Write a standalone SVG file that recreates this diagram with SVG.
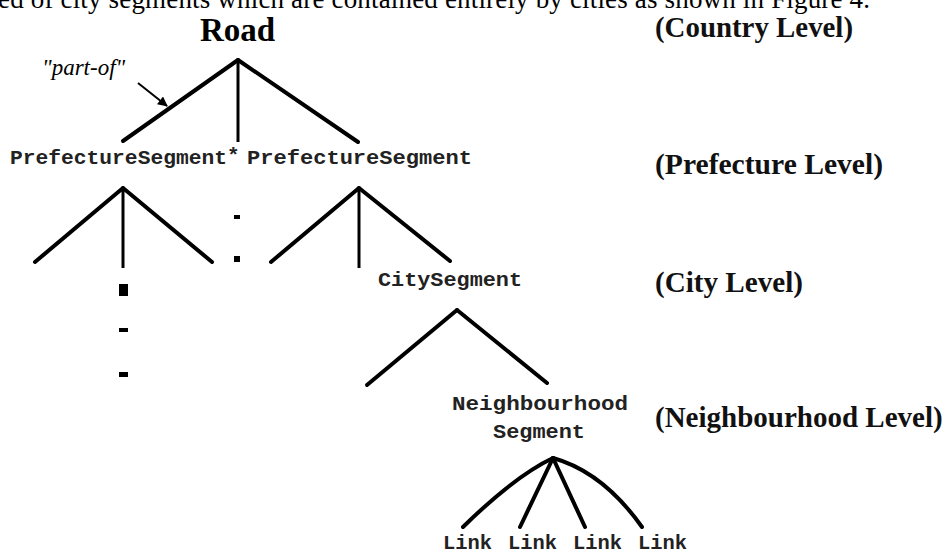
<svg xmlns="http://www.w3.org/2000/svg" width="945" height="554" viewBox="0 0 945 554">
<style>
.serif{font-family:"Liberation Serif","Times New Roman",serif;fill:#000}
.lvl{font-family:"Liberation Serif","Times New Roman",serif;font-weight:bold;font-size:29px;fill:#111}
.mono{font-family:"Liberation Mono","Courier New",monospace;font-weight:bold;font-size:21px;fill:#222}
.thick{stroke:#000;stroke-width:4;stroke-linecap:round;fill:none}
.thin{stroke:#000;stroke-width:3;fill:none}
</style>
<defs>
<marker id="ah" viewBox="0 0 10 10" refX="9" refY="5" markerWidth="5" markerHeight="5" orient="auto" markerUnits="strokeWidth">
<path d="M0,0 L10,5 L0,10 z" fill="#000"/>
</marker>
</defs>
<rect width="945" height="554" fill="#fff"/>
<text class="serif" x="-2" y="8" font-size="27" textLength="872" lengthAdjust="spacing">ed of city segments which are contained entirely by cities as shown in Figure 4.</text>

<g id="levels">
<text class="lvl" x="655" y="37" textLength="198" lengthAdjust="spacingAndGlyphs">(Country Level)</text>
<text class="lvl" x="655" y="174" textLength="228" lengthAdjust="spacingAndGlyphs">(Prefecture Level)</text>
<text class="lvl" x="655" y="292" textLength="148" lengthAdjust="spacingAndGlyphs">(City Level)</text>
<text class="lvl" x="655" y="427">(Neighbourhood Level)</text>
</g>

<g id="connectors">
<line class="thick" x1="238" y1="60" x2="123" y2="141"/>
<line class="thin" x1="238" y1="60" x2="238" y2="142"/>
<line class="thick" x1="238" y1="60" x2="358" y2="142"/>
<line x1="138" y1="83" x2="167" y2="106" stroke="#000" stroke-width="2" marker-end="url(#ah)"/>
<line class="thick" x1="123" y1="188" x2="35" y2="262"/>
<line class="thin" x1="123" y1="188" x2="123" y2="268"/>
<line class="thick" x1="123" y1="188" x2="212" y2="262"/>
<line class="thick" x1="359" y1="188" x2="271" y2="262"/>
<line class="thin" x1="359" y1="188" x2="359" y2="268"/>
<line class="thick" x1="359" y1="188" x2="450" y2="261"/>
<line class="thick" x1="457" y1="310" x2="367" y2="385"/>
<line class="thick" x1="457" y1="310" x2="547" y2="383"/>
<path class="thick" d="M553,458 Q515,476 463,527"/>
<line class="thick" x1="553" y1="458" x2="520" y2="527"/>
<line class="thick" x1="553" y1="458" x2="585" y2="527"/>
<path class="thick" d="M553,458 Q603,472 642,527"/>
</g>

<g id="ellipsis">
<rect x="234" y="215" width="6" height="4" fill="#000"/>
<rect x="234" y="256" width="6" height="6" fill="#000"/>
<rect x="119" y="284" width="9" height="12" fill="#000"/>
<rect x="119" y="328" width="9" height="4" fill="#000"/>
<rect x="119" y="372" width="9" height="5" fill="#000"/>
</g>

<g id="part-of">
<text class="serif" x="42" y="75" font-size="23" font-style="italic" fill="#333">"part-of"</text>
</g>

<g id="road">
<text class="serif" x="200" y="41" font-size="33" font-weight="bold">Road</text>
</g>

<g id="prefecture1">
<text class="mono" x="10" y="164" textLength="217" lengthAdjust="spacingAndGlyphs">PrefectureSegment</text>
<text class="mono" x="227" y="162" font-size="15">*</text>
</g>
<g id="prefecture2">
<text class="mono" x="247" y="164" textLength="225" lengthAdjust="spacingAndGlyphs">PrefectureSegment</text>
</g>
<g id="city">
<text class="mono" x="378" y="286" textLength="144" lengthAdjust="spacingAndGlyphs">CitySegment</text>
</g>
<g id="neighbourhood">
<text class="mono" x="452" y="410" textLength="176" lengthAdjust="spacingAndGlyphs">Neighbourhood</text>
<text class="mono" x="493" y="438" textLength="92" lengthAdjust="spacingAndGlyphs">Segment</text>
</g>
<g id="link1"><text class="mono" x="443" y="549" textLength="49" lengthAdjust="spacingAndGlyphs">Link</text></g>
<g id="link2"><text class="mono" x="508" y="549" textLength="49" lengthAdjust="spacingAndGlyphs">Link</text></g>
<g id="link3"><text class="mono" x="573" y="549" textLength="49" lengthAdjust="spacingAndGlyphs">Link</text></g>
<g id="link4"><text class="mono" x="638" y="549" textLength="49" lengthAdjust="spacingAndGlyphs">Link</text></g>
</svg>
